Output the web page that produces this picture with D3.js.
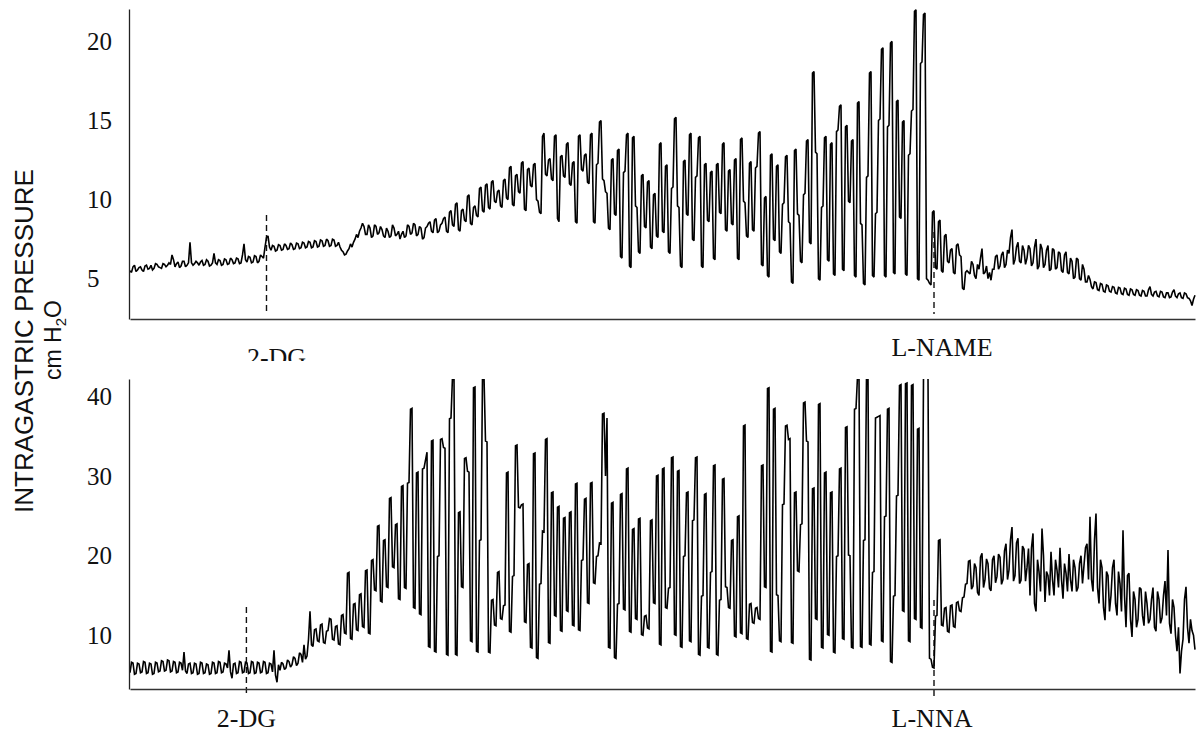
<!DOCTYPE html>
<html>
<head>
<meta charset="utf-8">
<script src="https://cdn.jsdelivr.net/npm/d3@7"></script>
<style>
  html, body { margin: 0; padding: 0; background: #fff; }
  svg { display: block; }
</style>
</head>
<body>
<svg id="chart" width="1202" height="738"></svg>
<script>
// Intragastric pressure traces (cm H2O).
// "Pressure" arrays hold the main samples; "Mid" arrays hold the sample
// recorded half a step after each main sample.
const topTicks = [5, 10, 15, 20];
const bottomTicks = [10, 20, 30, 40];

const topPressure = [
  5.5,5.75,5.45,5.7,5.55,5.8,5.6,5.85,5.65,5.9,5.7,5.95,5.75,6.0,6.5,5.75,6.05,5.8,6.1,5.85,
  7.3,5.85,6.1,5.85,6.15,5.9,6.1,5.85,6.6,5.9,6.15,5.9,6.2,5.95,6.2,6.0,6.25,6.0,7.2,6.05,
  6.35,6.05,6.4,6.1,6.4,7.0,7.7,6.8,7.05,6.8,7.1,6.85,7.1,6.9,7.15,6.9,7.2,6.95,7.25,7.0,
  7.3,7.0,7.35,7.05,7.4,7.1,7.4,7.1,7.45,7.1,7.0,6.7,6.55,6.9,7.0,7.5,7.6,8.2,8.3,7.8,
  8.2,7.7,8.3,7.9,8.1,7.6,8.0,7.7,8.2,7.8,7.5,8.0,7.7,8.3,7.9,8.4,7.8,8.2,7.6,8.3,
  8.6,7.9,8.8,8.0,8.5,8.9,7.9,9.3,8.3,9.8,8.0,9.4,8.6,10.3,8.4,9.6,8.9,10.8,9.2,11.0,
  9.4,11.2,9.8,10.6,9.5,11.3,10.0,12.1,9.6,11.6,10.4,12.4,9.3,12.0,10.8,12.3,9.9,9.1,14.2,11.5,
  12.6,11.2,14.1,8.6,12.8,11.4,13.6,10.9,12.4,8.5,14.1,11.8,12.9,11.0,14.2,8.5,12.3,15.0,11.2,10.4,
  8.1,12.6,9.0,13.2,6.3,11.8,14.2,5.7,14.0,9.5,6.6,11.6,8.2,11.2,6.9,10.4,7.6,13.6,7.9,12.2,
  6.6,10.8,15.2,9.5,5.7,12.5,9.0,14.2,7.4,11.5,14.0,5.7,12.3,8.6,11.8,6.2,12.3,9.1,13.6,8.0,
  11.9,8.4,12.6,6.2,13.9,9.8,7.6,12.4,8.0,12.1,14.3,5.8,10.2,5.1,12.9,7.4,12.2,6.6,9.8,12.8,
  8.5,4.7,13.2,9.0,6.0,10.4,13.8,7.2,18.1,12.9,4.9,9.6,14.0,6.1,13.6,5.2,14.4,16.0,5.5,14.7,
  9.8,13.8,5.1,16.2,8.4,4.6,11.5,18.1,5.1,9.2,15.1,19.6,5.1,14.7,20.0,5.3,16.3,8.8,15.0,5.2,
  12.9,15.7,22.0,4.9,18.7,21.8,4.9,4.6,9.3,5.6,8.7,5.4,7.8,6.0,6.9,5.3,7.2,6.4,4.3,5.5,
  5.3,5.9,5.0,5.6,6.9,5.4,5.0,4.9,5.6,6.5,5.8,6.7,5.9,6.6,8.1,6.2,7.3,6.0,6.8,6.3,
  6.9,6.0,7.5,5.8,6.9,5.9,7.1,5.6,6.8,5.7,6.6,5.4,6.7,5.3,6.1,5.1,6.2,4.9,5.6,4.8,
  4.95,4.35,4.75,4.25,4.65,4.15,4.55,4.15,4.45,4.05,4.4,4.0,4.35,3.95,4.3,3.95,4.25,3.9,4.2,3.9,
  4.5,3.9,4.2,3.85,4.15,3.8,4.1,3.85,4.3,3.8,4.1,3.75,4.05,3.75,3.3,3.95
];

const topMid = [
  5.4,5.85,5.55,5.75,5.45,5.85,5.65,5.55,5.95,5.75,5.65,5.9,5.85,5.9,6.2,5.95,5.7,6.1,5.75,6.0,
  6.0,5.95,6.0,6.05,5.85,6.2,5.8,6.0,6.0,6.2,5.85,6.25,5.9,6.3,5.95,6.3,5.95,6.5,6.2,6.4,
  6.0,6.45,6.0,6.5,6.3,7.6,7.0,7.1,6.75,7.15,6.8,7.2,6.85,7.25,6.85,7.25,6.9,7.3,6.95,7.35,
  6.95,7.4,7.0,7.45,7.05,7.5,7.05,7.5,7.05,7.3,6.8,6.5,6.75,7.2,7.3,7.8,8.0,8.5,7.8,8.4,
  7.6,8.4,7.8,8.3,7.7,8.2,7.6,8.4,7.7,8.0,7.8,7.6,8.4,7.8,8.5,7.7,8.3,7.5,8.2,8.5,
  8.0,8.7,7.9,8.4,8.8,8.0,9.2,8.4,9.7,8.1,9.3,8.7,10.2,8.5,9.5,9.0,10.7,9.3,10.9,9.5,
  11.1,9.9,10.5,9.6,11.2,10.1,12.0,9.7,11.5,10.5,12.3,9.4,11.9,10.9,12.2,10.0,9.2,14.0,11.6,12.5,
  11.3,14.0,8.8,12.7,11.5,13.5,11.0,12.3,8.6,14.0,11.9,12.8,11.1,14.1,8.6,12.2,14.9,11.3,10.5,8.2,
  12.5,9.1,13.1,6.4,11.7,14.1,5.8,13.9,9.6,6.7,11.5,8.3,11.1,7.0,10.3,7.7,13.5,8.0,12.1,6.7,
  10.7,15.1,9.6,5.8,12.4,9.1,14.1,7.5,11.4,13.9,5.8,12.2,8.7,11.7,6.3,12.2,9.2,13.5,8.1,11.8,
  8.5,12.5,6.3,13.8,9.9,7.7,12.3,8.1,12.0,14.2,5.9,10.1,5.2,12.8,7.5,12.1,6.7,9.7,12.7,8.6,
  4.8,13.1,9.1,6.1,10.3,13.7,7.3,18.0,13.0,5.0,9.5,13.9,6.2,13.5,5.3,14.3,15.9,5.6,14.6,9.9,
  13.7,5.2,16.1,8.5,4.7,11.4,18.0,5.2,9.1,15.0,19.5,5.2,14.6,19.9,5.4,16.2,8.9,14.9,5.3,12.8,
  15.6,21.9,5.0,18.6,21.7,5.0,4.7,9.2,5.7,8.6,5.5,7.7,6.1,6.8,5.4,7.1,6.5,4.4,5.4,5.4,
  6.1,5.2,5.9,6.3,5.3,5.8,5.4,5.6,6.4,5.6,6.5,5.7,6.8,7.6,5.9,7.0,6.1,7.1,5.9,7.1,
  5.8,7.0,5.6,7.2,5.7,6.8,5.5,6.9,5.6,6.7,5.5,6.5,5.4,6.3,5.0,6.3,5.0,5.9,4.8,5.2,
  4.5,4.8,4.3,4.7,4.2,4.6,4.2,4.5,4.1,4.45,4.05,4.4,4.0,4.35,4.0,4.3,3.95,4.25,3.9,4.3,
  4.0,4.15,3.9,4.2,3.85,4.1,3.8,4.15,3.9,4.05,3.8,4.1,3.8,3.6,3.7
];

const bottomPressure = [
  5.3,6.5,5.2,6.4,5.4,6.6,5.3,6.4,5.2,6.5,5.5,6.7,5.6,6.8,5.5,6.6,5.4,6.5,7.9,5.2,
  6.5,5.3,6.4,5.2,6.5,5.3,6.3,5.2,6.5,5.3,6.6,5.4,6.4,8.1,4.6,6.5,5.3,6.6,5.4,6.5,
  5.3,6.6,5.3,6.5,5.4,6.6,5.3,6.4,8.1,4.1,5.6,6.4,5.9,6.7,6.3,7.1,6.5,7.6,8.8,7.4,
  13.0,8.6,10.8,9.2,11.4,9.0,10.6,12.0,9.4,11.2,8.8,12.6,10.2,17.9,9.5,14.0,10.6,15.2,11.0,18.2,
  10.2,19.5,15.6,23.8,14.2,22.0,16.0,27.3,18.5,24.0,14.5,28.8,15.9,29.2,38.5,13.4,30.5,12.6,31.0,33.0,
  8.5,34.5,7.9,20.0,34.7,33.5,7.5,37.3,42.5,7.5,25.5,16.0,32.3,30.5,9.2,41.2,7.9,22.0,42.5,34.3,
  7.8,14.5,11.2,18.0,12.0,13.8,30.5,10.4,17.5,33.9,26.0,26.5,11.6,19.0,8.4,32.9,7.1,16.5,23.0,34.7,
  9.0,28.0,12.4,26.2,10.5,24.8,13.0,25.5,11.2,29.1,10.6,19.5,27.2,14.0,29.2,16.5,20.0,21.5,37.9,37.3,
  8.4,26.7,7.1,14.0,27.8,13.2,31.0,10.4,23.4,12.0,24.7,10.0,12.5,10.8,24.5,14.0,30.1,8.8,31.0,13.4,
  16.0,32.4,10.0,30.7,8.5,20.0,28.0,9.2,24.5,32.4,7.5,15.0,27.8,8.4,18.0,31.4,7.5,14.5,29.7,16.0,
  13.4,22.0,9.8,25.0,10.2,36.4,9.5,14.0,11.5,13.5,12.0,31.4,16.0,41.1,7.9,38.5,15.0,9.2,26.5,36.4,
  34.7,9.0,28.0,18.0,24.0,39.3,34.3,6.9,28.5,12.0,39.1,8.4,30.5,10.0,28.0,7.8,20.0,31.0,9.5,36.2,
  20.0,8.4,38.5,42.5,8.5,22.0,42.5,8.8,18.0,37.4,37.6,9.2,25.0,38.5,6.6,15.0,27.6,41.5,13.0,41.7,
  9.2,41.5,12.0,36.0,10.9,42.5,42.5,7.0,5.9,12.5,22.0,11.2,13.5,10.4,13.8,11.0,14.2,13.0,14.8,16.5,
  19.4,16.2,18.5,15.0,20.3,17.0,19.0,15.6,20.0,17.4,19.8,17.0,21.5,18.2,23.6,17.5,22.2,16.9,20.8,18.5,
  15.0,22.8,13.0,18.0,23.4,14.2,17.5,20.5,15.0,18.2,21.0,14.6,17.8,20.2,15.5,18.5,16.0,20.0,18.8,21.5,
  24.9,15.5,25.3,14.0,18.5,11.9,17.5,15.0,19.5,12.5,16.5,23.2,11.0,17.8,9.8,14.5,12.0,15.8,11.2,14.0,
  12.0,16.0,10.5,14.5,12.2,16.8,20.7,10.2,13.5,8.0,5.2,9.5,16.1,9.0,10.6,8.2
];

const bottomMid = [
  6.6,5.1,6.5,5.3,6.7,5.2,6.5,5.1,6.6,5.4,6.8,5.5,6.9,5.4,6.7,5.3,6.6,5.6,5.5,6.4,
  5.2,6.5,5.1,6.6,5.2,6.4,5.1,6.6,5.2,6.7,5.3,6.5,5.9,5.4,6.4,5.2,6.7,5.3,6.6,5.2,
  6.7,5.2,6.6,5.3,6.7,5.2,6.5,5.4,5.0,6.3,6.6,5.7,6.9,6.0,7.3,6.2,7.8,6.6,7.0,9.5,
  8.8,10.7,9.3,11.3,9.1,10.5,12.1,9.5,11.1,8.9,12.5,10.3,17.8,9.6,13.9,10.7,15.1,11.1,18.1,10.3,
  19.4,15.7,23.7,14.3,21.9,16.1,27.2,18.6,23.9,14.6,28.7,16.0,29.1,38.4,13.5,30.4,12.7,30.9,32.0,8.6,
  34.4,8.0,19.9,34.6,33.6,7.6,37.2,42.5,7.6,25.4,16.1,32.2,30.6,9.3,41.1,8.0,21.9,42.5,34.4,7.9,
  14.4,11.3,17.9,12.1,13.7,30.4,10.5,17.4,33.8,26.1,26.4,11.7,18.9,8.5,32.8,7.2,16.4,23.1,34.6,9.1,
  27.9,12.5,26.1,10.6,24.7,13.1,25.4,11.3,29.0,10.7,19.4,27.1,14.1,29.1,16.6,19.9,21.6,37.8,30.0,8.5,
  26.6,7.2,13.9,27.7,13.3,30.9,10.5,23.3,12.1,24.6,10.1,12.4,10.9,24.4,14.1,30.0,8.9,30.9,13.5,15.9,
  32.3,10.1,30.6,8.6,19.9,27.9,9.3,24.4,32.3,7.6,14.9,27.7,8.5,17.9,31.3,7.6,14.4,29.6,16.1,13.5,
  21.9,9.9,24.9,10.3,36.3,9.6,13.9,11.6,13.4,12.1,31.3,16.1,41.0,8.0,38.4,15.1,9.3,26.4,36.3,34.6,
  9.1,27.9,18.1,23.9,39.2,34.4,7.0,28.4,12.1,39.0,8.5,30.4,10.1,27.9,7.9,19.9,30.9,9.6,36.1,20.1,
  8.5,38.4,42.5,8.6,21.9,42.5,8.9,17.9,37.3,37.5,9.3,24.9,38.4,6.7,14.9,27.5,41.4,13.1,41.6,9.3,
  41.4,12.1,35.9,11.0,42.5,42.5,7.1,6.0,12.4,21.9,11.3,13.4,10.5,13.7,11.1,14.1,13.1,14.7,16.4,19.3,
  15.8,19.0,15.4,19.8,16.0,19.6,15.9,19.5,16.6,20.2,16.4,20.6,17.0,22.0,16.8,21.6,16.5,21.2,16.8,20.9,
  21.0,14.0,19.5,15.5,20.0,18.0,15.0,17.0,19.5,16.0,17.0,19.0,15.5,17.0,19.5,15.5,19.0,16.5,21.0,17.0,
  17.0,22.0,16.0,19.5,13.5,18.0,13.0,18.5,14.0,18.0,13.0,15.0,17.5,12.0,15.5,11.0,16.0,12.5,15.5,11.5,
  14.5,11.0,15.5,11.5,15.0,12.5,11.5,14.5,10.0,11.0,8.0,14.5,11.0,12.0,10.0
];

// Drug administration times, in sample index units.
const topEventNames = ["2-DG", "L-NAME"];
const topEventTimes = [45.5, 268];
const bottomEventNames = ["2-DG", "L-NNA"];
const bottomEventTimes = [38.8, 268];

const svg = d3.select("#chart");
svg.append("rect").attr("width", 1202).attr("height", 738).attr("fill", "#fff");

const plotLeft = 130, plotRight = 1195;

// interleave main and half-step samples into one time series
function series(main, mid) {
  const out = [];
  main.forEach((v, i) => {
    out.push({ t: i, v });
    if (i < mid.length) out.push({ t: i + 0.5, v: mid[i] });
  });
  return out;
}

function drawPanel(cfg) {
  const g = svg.append("g");
  const x = d3.scaleLinear().domain([0, cfg.values.length - 1]).range([plotLeft, plotRight]);
  const y = d3.scaleLinear().domain(cfg.domain).range([cfg.bottom, cfg.top]);

  const clipId = "clip-" + cfg.id;
  svg.append("clipPath").attr("id", clipId)
    .append("rect")
    .attr("x", plotLeft).attr("y", cfg.top)
    .attr("width", plotRight - plotLeft + 1).attr("height", cfg.bottom - cfg.top);

  // dashed markers for the drug administrations
  g.selectAll("line.event")
    .data(cfg.eventTimes)
    .join("line")
    .attr("class", "event")
    .attr("x1", d => x(d)).attr("x2", d => x(d))
    .attr("y1", (d, i) => cfg.dash[i][0]).attr("y2", (d, i) => cfg.dash[i][1])
    .attr("stroke", "#111").attr("stroke-width", 1.4)
    .attr("stroke-dasharray", "6,4");

  // pressure trace
  const line = d3.line().x(d => x(d.t)).y(d => y(d.v));
  g.append("path")
    .datum(series(cfg.values, cfg.mid))
    .attr("clip-path", `url(#${clipId})`)
    .attr("d", line)
    .attr("fill", "none")
    .attr("stroke", "#000")
    .attr("stroke-width", 1.6)
    .attr("stroke-linejoin", "miter")
    .attr("stroke-miterlimit", 2);

  // y axis: bare line with left-aligned labels
  const yAxis = g.append("g")
    .attr("transform", `translate(${plotLeft - 1},0)`)
    .call(d3.axisLeft(y).tickValues(cfg.ticks).tickSize(0).tickSizeOuter(0).tickFormat(d3.format("d")));
  yAxis.select(".domain").attr("stroke", "#222").attr("stroke-width", 1.3);
  yAxis.selectAll(".tick text")
    .attr("x", -42)
    .attr("text-anchor", "start")
    .attr("fill", "#111")
    .style("font-family", "'Liberation Serif', 'Times New Roman', serif")
    .style("font-size", "25px");

  // x axis: plain baseline
  const xAxis = g.append("g")
    .attr("transform", `translate(0,${cfg.bottom})`)
    .call(d3.axisBottom(x).tickValues([]).tickSizeOuter(0));
  xAxis.select(".domain").attr("stroke", "#333").attr("stroke-width", 1.3);

  // event labels
  const labels = g.append("g");
  if (cfg.labelClip) {
    const lc = "lclip-" + cfg.id;
    svg.append("clipPath").attr("id", lc)
      .append("rect").attr("x", 0).attr("y", 0).attr("width", 1202).attr("height", cfg.labelClip);
    labels.attr("clip-path", `url(#${lc})`);
  }
  labels.selectAll("text")
    .data(cfg.eventNames)
    .join("text")
    .attr("x", (d, i) => x(cfg.eventTimes[i]) + cfg.labelDx[i])
    .attr("y", (d, i) => cfg.labelY[i])
    .attr("text-anchor", "middle")
    .attr("fill", "#111")
    .style("font-family", "'Liberation Serif', 'Times New Roman', serif")
    .style("font-size", "26px")
    .text(d => d);
}

drawPanel({
  id: "top", values: topPressure, mid: topMid, domain: [2.45, 22.05], top: 9, bottom: 319,
  ticks: topTicks, eventNames: topEventNames, eventTimes: topEventTimes,
  dash: [[215, 314], [232, 314]], labelDx: [10, 8], labelY: [366, 356], labelClip: 361
});

drawPanel({
  id: "bottom", values: bottomPressure, mid: bottomMid, domain: [3.25, 42.2], top: 379, bottom: 689,
  ticks: bottomTicks, eventNames: bottomEventNames, eventTimes: bottomEventTimes,
  dash: [[607, 694], [600, 698]], labelDx: [0, -2], labelY: [727, 727]
});

// shared y-axis title
const title = svg.append("g").style("font-family", "'Liberation Sans', Arial, sans-serif").attr("fill", "#111");
title.append("text")
  .attr("transform", "translate(33,341) rotate(-90)")
  .attr("text-anchor", "middle")
  .style("font-size", "26px")
  .text("INTRAGASTRIC PRESSURE");
const unit = title.append("text")
  .attr("transform", "translate(61,340) rotate(-90)")
  .attr("text-anchor", "middle")
  .style("font-size", "23px");
unit.append("tspan").text("cm H");
unit.append("tspan").attr("dy", 5).style("font-size", "15px").text("2");
unit.append("tspan").attr("dy", -5).text("O");
</script>
</body>
</html>
